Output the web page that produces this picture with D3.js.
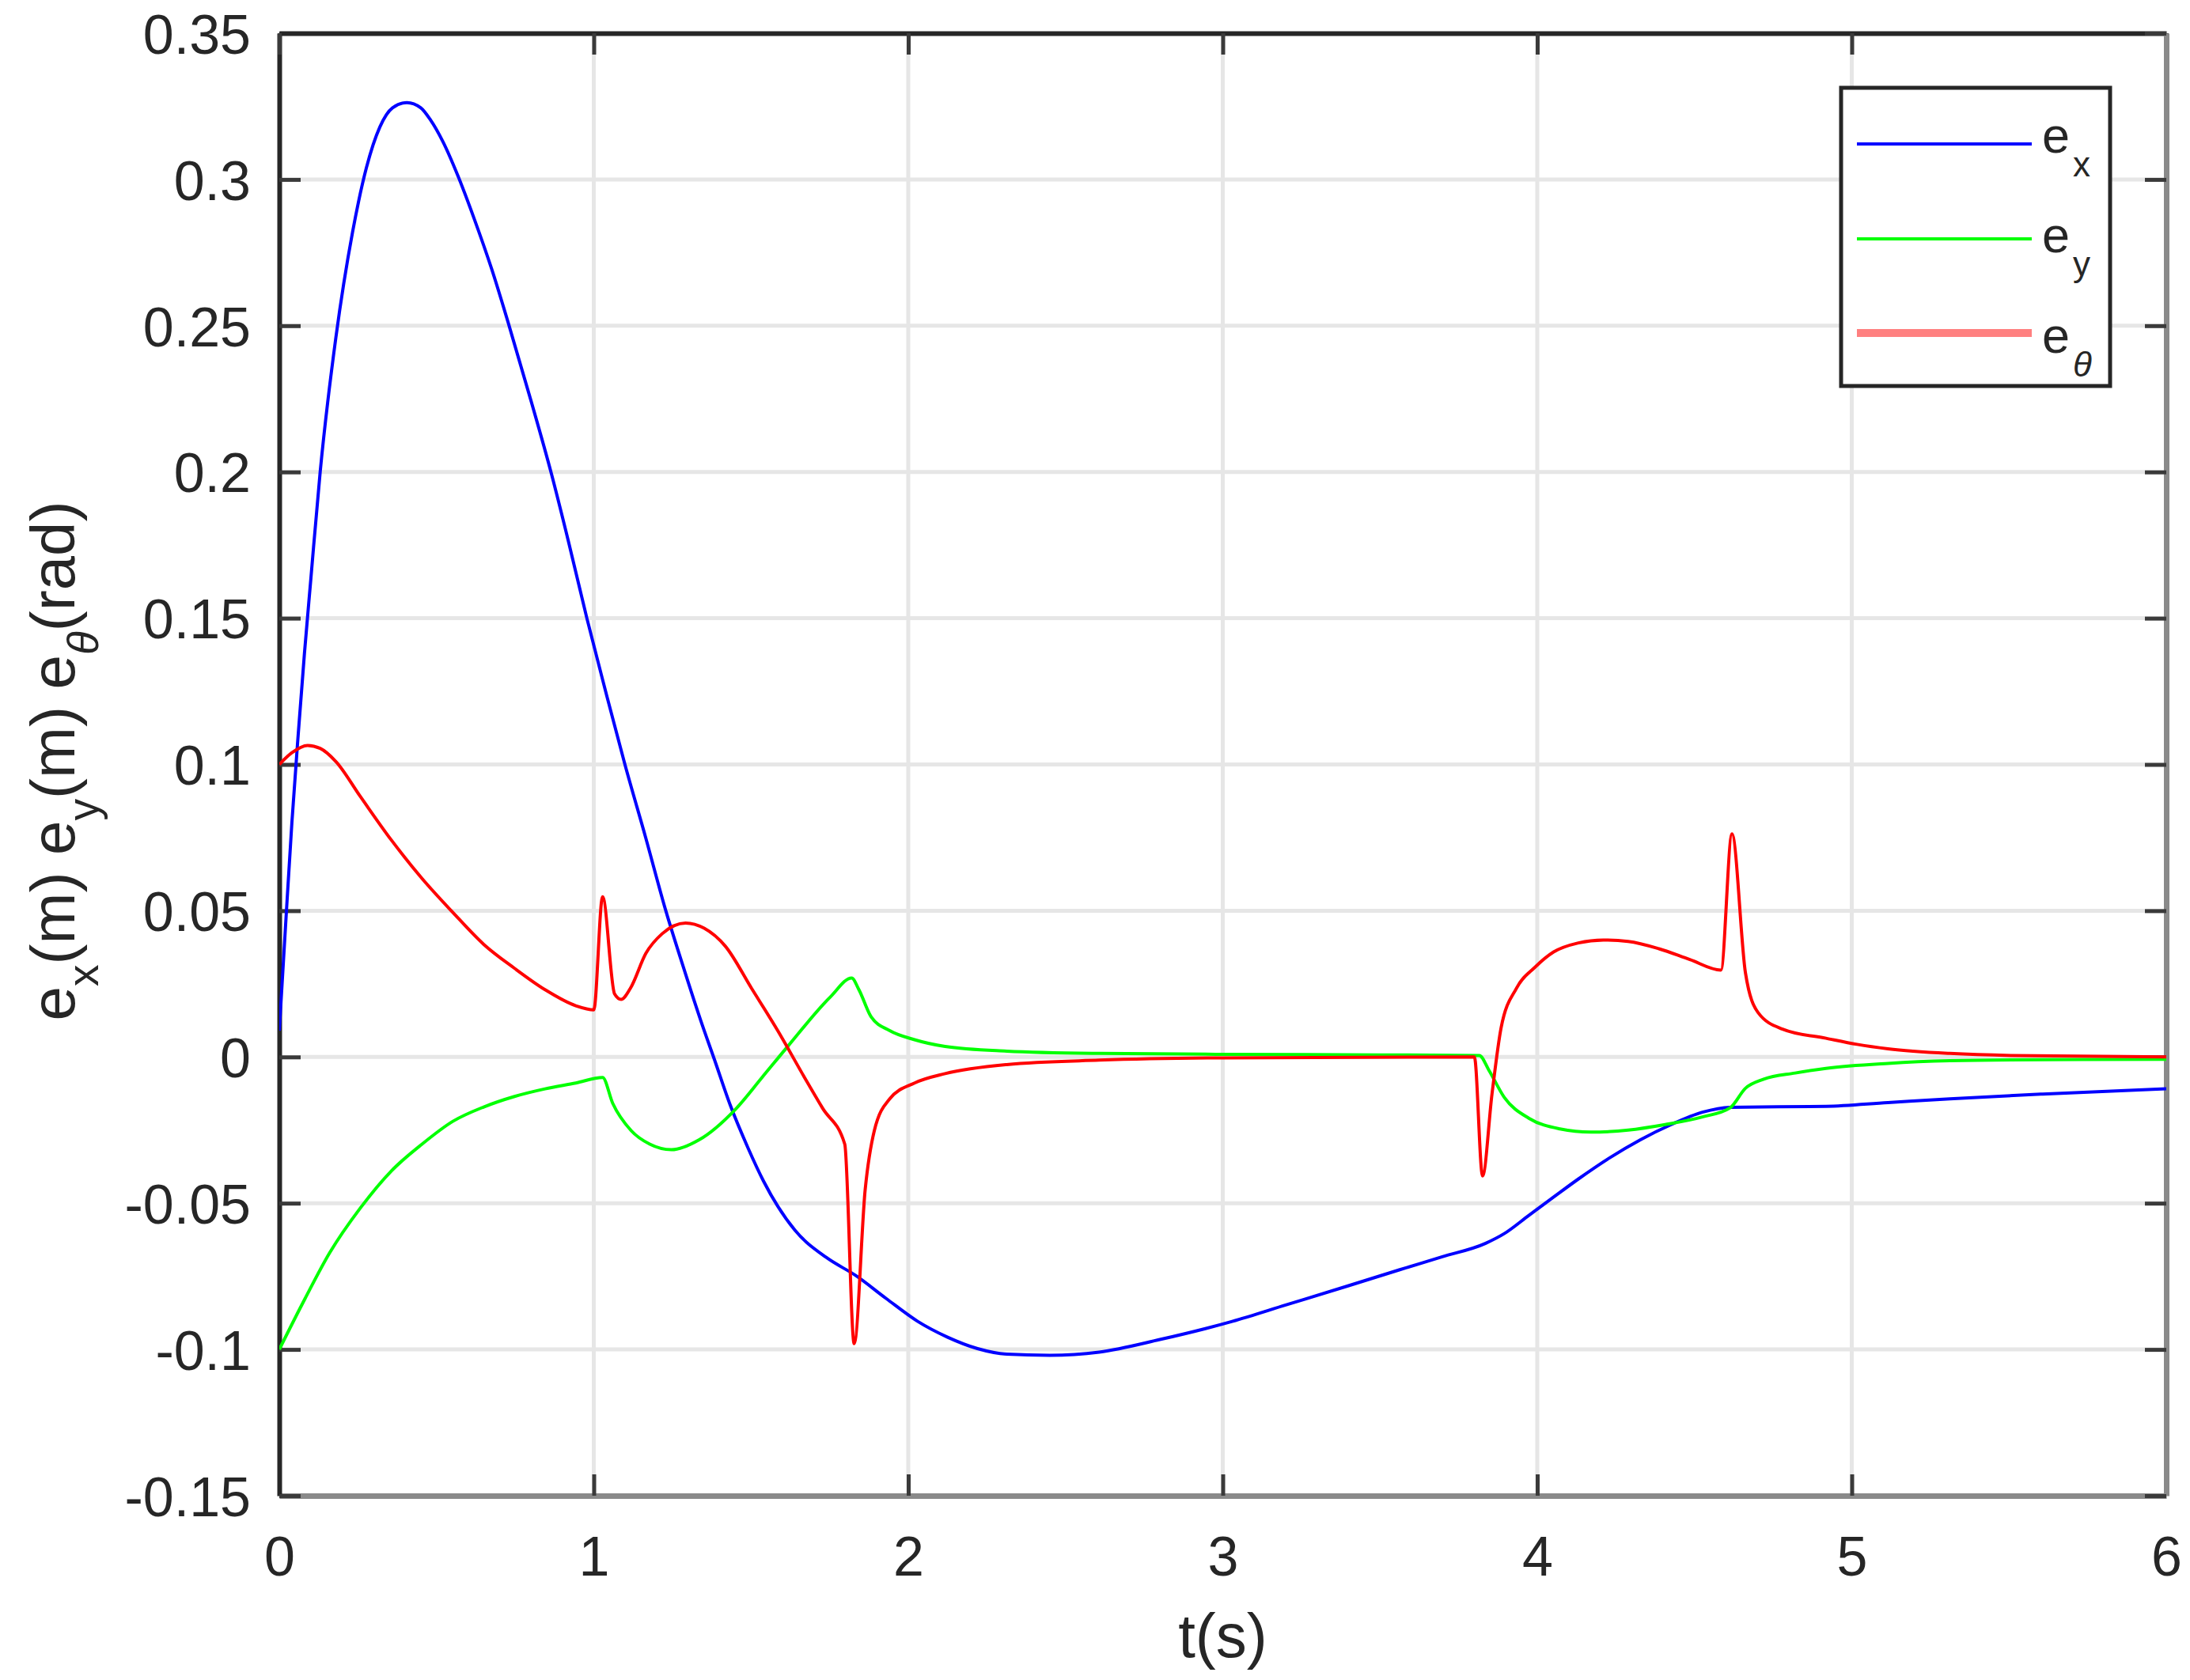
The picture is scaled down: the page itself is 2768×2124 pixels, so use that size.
<!DOCTYPE html>
<html>
<head>
<meta charset="utf-8">
<script src="https://cdn.jsdelivr.net/npm/d3@7"></script>
<style>
  html, body { margin: 0; padding: 0; background: #ffffff; }
  svg { display: block; }
  text { font-family: "Liberation Sans", Arial, Helvetica, sans-serif; fill: #262626; }
</style>
</head>
<body>
<svg id="chart" width="2768" height="2124"></svg>
<script>
// ---------------- data ----------------
const xTicks = [0, 1, 2, 3, 4, 5, 6];
const xTickLabels = ["0", "1", "2", "3", "4", "5", "6"];
const yTicks = [0.35, 0.3, 0.25, 0.2, 0.15, 0.1, 0.05, 0, -0.05, -0.1, -0.15];
const yTickLabels = ["0.35", "0.3", "0.25", "0.2", "0.15", "0.1", "0.05", "0", "-0.05", "-0.1", "-0.15"];

// e_x (m)
const exT = [0, 0.02, 0.04, 0.06, 0.08, 0.1, 0.13, 0.18, 0.233, 0.277, 0.32, 0.36, 0.406, 0.45, 0.48, 0.52,
  0.569, 0.62, 0.675, 0.728, 0.80, 0.865, 0.92, 0.978, 1.04, 1.099, 1.165, 1.229, 1.29, 1.34, 1.384, 1.434,
  1.49, 1.54, 1.64, 1.74, 1.834, 1.93, 2.03, 2.125, 2.22, 2.313, 2.45, 2.607, 2.80, 3.03, 3.2, 3.4, 3.561,
  3.698, 3.836, 3.895, 3.974, 4.052, 4.131, 4.23, 4.328, 4.426, 4.525, 4.613, 4.918, 5.115, 5.312, 5.607, 6.0];
const exV = [0.009, 0.045, 0.08, 0.11, 0.138, 0.163, 0.2, 0.246, 0.282, 0.304, 0.318, 0.3245, 0.3263, 0.3245, 0.3205, 0.313,
  0.301, 0.2865, 0.2695, 0.251, 0.2245, 0.1995, 0.176, 0.15, 0.124, 0.1, 0.075, 0.05, 0.029, 0.0125, -0.001, -0.0165,
  -0.031, -0.0425, -0.0593, -0.0686, -0.0748, -0.0826, -0.0904, -0.0958, -0.0997, -0.1016, -0.102, -0.1009, -0.0966, -0.0904, -0.0848, -0.0782, -0.0728,
  -0.0683, -0.0637, -0.0604, -0.0541, -0.0479, -0.0417, -0.0345, -0.0283, -0.0231, -0.0189, -0.0172, -0.0169, -0.0156, -0.0143, -0.0127, -0.0109];

// e_y (m)
const eyT = [0, 0.082, 0.16, 0.258, 0.356, 0.454, 0.552, 0.65, 0.748, 0.845, 0.943, 1.028, 1.06, 1.119, 1.178, 1.247,
  1.335, 1.452, 1.535, 1.619, 1.753, 1.82, 1.843, 1.882, 1.941, 2.02, 2.117, 2.313, 2.607, 3.0, 3.5, 3.816,
  3.846, 3.895, 3.974, 4.072, 4.17, 4.289, 4.407, 4.525, 4.613, 4.662, 4.72, 4.82, 4.918, 5.115, 5.312, 5.607, 6.0];
const eyV = [-0.1, -0.0826, -0.067, -0.0516, -0.039, -0.0298, -0.022, -0.0171, -0.0135, -0.0109, -0.0089, -0.0070, -0.0158, -0.0252, -0.0298, -0.0317,
  -0.0283, -0.0177, -0.007, 0.0039, 0.0206, 0.027, 0.023, 0.0137, 0.009, 0.0059, 0.0036, 0.002, 0.0012, 0.0009, 0.0007, 0.0005,
  -0.0045, -0.0138, -0.021, -0.0246, -0.0257, -0.025, -0.0231, -0.0205, -0.0174, -0.0107, -0.0076, -0.0055, -0.0039, -0.0022, -0.0013, -0.0009, -0.0008];

// e_theta (rad)
const etT = [0, 0.04, 0.09, 0.13, 0.18, 0.258, 0.356, 0.454, 0.552, 0.65, 0.748, 0.845, 0.943, 1.0, 1.028, 1.066,
  1.087, 1.116, 1.166, 1.217, 1.292, 1.351, 1.418, 1.502, 1.586, 1.67, 1.728, 1.798, 1.828, 1.863, 1.892, 1.941,
  2.02, 2.117, 2.313, 2.607, 3.0, 3.80, 3.826, 3.856, 3.885, 3.934, 3.993, 4.052, 4.131, 4.21, 4.289, 4.387,
  4.485, 4.584, 4.619, 4.662, 4.702, 4.78, 4.918, 5.017, 5.115, 5.312, 5.508, 6.0];
const etV = [0.1, 0.104, 0.1065, 0.1055, 0.101, 0.089, 0.0742, 0.061, 0.0494, 0.0385, 0.0303, 0.023, 0.0175, 0.0161, 0.0548, 0.0216,
  0.0197, 0.0234, 0.0355, 0.0421, 0.0458, 0.044, 0.0379, 0.0234, 0.0088, -0.007, -0.0176, -0.0298, -0.098, -0.0453, -0.0252, -0.0143,
  -0.0089, -0.0057, -0.0026, -0.0011, -0.0003, 0.0, -0.0407, -0.0127, 0.010, 0.0235, 0.0307, 0.0359, 0.039, 0.040, 0.0395, 0.037,
  0.0333, 0.0297, 0.0763, 0.0287, 0.0152, 0.0095, 0.0064, 0.0043, 0.0028, 0.0012, 0.0005, 0.0];

const seriesNames = ["x", "y", "θ"];
const seriesColors = ["#0000ff", "#00ff00", "#ff0000"];
const legendColors = ["#0000ff", "#00ff00", "#ff8080"];

// ---------------- layout ----------------
const svg = d3.select("#chart");
const L = 353, R = 2738, T = 42, B = 1891;
const x = d3.scaleLinear().domain([0, 6]).range([L, R]);
const y = d3.scaleLinear().domain([-0.15, 0.35]).range([B, T]);
const tickLen = 27;

svg.append("rect").attr("width", 2768).attr("height", 2124).attr("fill", "#ffffff");

// grid
const grid = svg.append("g");
grid.selectAll(".gx").data(xTicks.slice(1, -1)).join("line")
  .attr("x1", d => x(d)).attr("x2", d => x(d)).attr("y1", T).attr("y2", B)
  .attr("stroke", "#e6e6e6").attr("stroke-width", 5);
grid.selectAll(".gy").data(yTicks.slice(1, -1)).join("line")
  .attr("x1", L).attr("x2", R).attr("y1", d => y(d)).attr("y2", d => y(d))
  .attr("stroke", "#e6e6e6").attr("stroke-width", 5);

// axes
function styleAxis(g, domainColor, domainWidth) {
  g.select(".domain").attr("stroke", domainColor).attr("stroke-width", domainWidth);
  g.selectAll(".tick line").attr("stroke", "#3a3a3a").attr("stroke-width", 5);
  g.selectAll(".tick text").attr("fill", "#262626")
    .style("font-family", '"Liberation Sans", Arial, sans-serif').style("font-size", "70px");
}
const axB = svg.append("g").attr("transform", `translate(0,${B})`)
  .call(d3.axisBottom(x).tickValues(xTicks).tickFormat((d, i) => xTickLabels[i])
    .tickSizeInner(-tickLen).tickSizeOuter(0).tickPadding(51));
styleAxis(axB, "#8a8a8a", 7);
axB.selectAll(".tick text").attr("dy", "0.71em");

const axL = svg.append("g").attr("transform", `translate(${L},0)`)
  .call(d3.axisLeft(y).tickValues(yTicks).tickFormat((d, i) => yTickLabels[i])
    .tickSizeInner(-tickLen).tickSizeOuter(0).tickPadding(36));
styleAxis(axL, "#262626", 6);
axL.selectAll(".tick text").attr("dy", "0.36em");

const axT = svg.append("g").attr("transform", `translate(0,${T})`)
  .call(d3.axisTop(x).tickValues(xTicks).tickFormat("").tickSizeInner(-tickLen).tickSizeOuter(0));
styleAxis(axT, "#262626", 6);

const axR = svg.append("g").attr("transform", `translate(${R},0)`)
  .call(d3.axisRight(y).tickValues(yTicks).tickFormat("").tickSizeInner(-tickLen).tickSizeOuter(0));
styleAxis(axR, "#8a8a8a", 7);

// data lines
svg.append("clipPath").attr("id", "clip").append("rect")
  .attr("x", L).attr("y", T).attr("width", R - L).attr("height", B - T);
const lineGen = d3.line().x(d => x(d[0])).y(d => y(d[1])).curve(d3.curveMonotoneX);
const series = [d3.zip(exT, exV), d3.zip(eyT, eyV), d3.zip(etT, etV)];
const lines = svg.append("g").attr("clip-path", "url(#clip)");
series.forEach((s, i) => {
  lines.append("path").attr("d", lineGen(s)).attr("fill", "none")
    .attr("stroke", seriesColors[i]).attr("stroke-width", 4).attr("stroke-linejoin", "round");
});

// axis labels
svg.append("text").attr("x", (L + R) / 2).attr("y", 2095).attr("text-anchor", "middle")
  .style("font-size", "78px").text("t(s)");

const yl = svg.append("text").attr("transform", "translate(94,962) rotate(-90)")
  .attr("text-anchor", "middle").style("font-size", "78px");
const parts = [["e", "x", "(m) "], ["e", "y", "(m) "], ["e", "θ", "(rad)"]];
parts.forEach(p => {
  yl.append("tspan").text(p[0]);
  yl.append("tspan").attr("dy", 30).style("font-size", "55px")
    .style("font-style", p[1] === "θ" ? "italic" : "normal").text(p[1]);
  yl.append("tspan").attr("dy", -30).text(p[2]);
});

// legend
const lg = svg.append("g");
lg.append("rect").attr("x", 2327).attr("y", 111).attr("width", 340).attr("height", 377)
  .attr("fill", "#ffffff").attr("stroke", "#262626").attr("stroke-width", 5);
const lineYs = [182, 302, 421];
const textYs = [193, 319, 446];
seriesNames.forEach((n, i) => {
  lg.append("line").attr("x1", 2347).attr("x2", 2568).attr("y1", lineYs[i]).attr("y2", lineYs[i])
    .attr("stroke", legendColors[i]).attr("stroke-width", i === 2 ? 10 : 4);
  const t = lg.append("text").attr("x", 2581).attr("y", textYs[i]).style("font-size", "63px").attr("fill", "#000");
  t.append("tspan").text("e");
  t.append("tspan").attr("dx", 4).attr("dy", 30).style("font-size", "44px")
    .style("font-style", n === "θ" ? "italic" : "normal").text(n);
});
</script>
</body>
</html>
